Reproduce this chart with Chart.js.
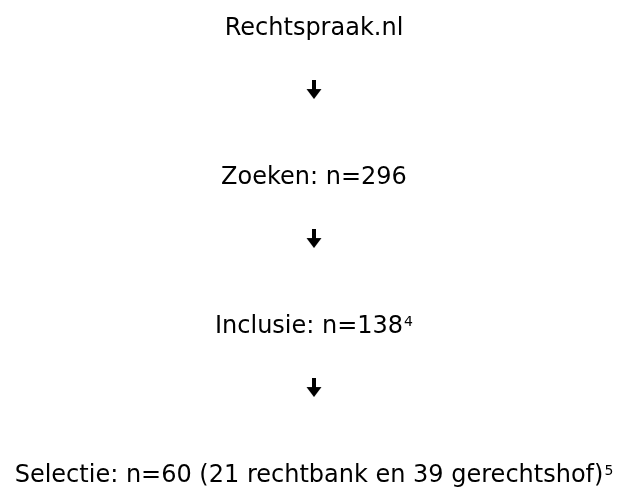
<!DOCTYPE html>
<html>
<head>
<meta charset="utf-8">
<script src="https://cdn.jsdelivr.net/npm/chart.js@4.4.1/dist/chart.umd.min.js"></script>
<style>
  html, body { margin: 0; padding: 0; background: #fff; }
</style>
</head>
<body>
<canvas id="flow" width="619" height="490"></canvas>
<script>
// Flow of the case-law search: one stage per row, arrows in between
const stageNames = ['Rechtspraak.nl', 'Zoeken', 'Inclusie', 'Selectie'];
const stageCounts = [null, 296, 138, 60];
const stageFootnotes = [null, null, 4, 5];
const courtTypes = ['rechtbank', 'gerechtshof'];
const courtCounts = [21, 39];

const ARROW_OFFSET = 0.433; // arrow sits a bit above the middle between two stages
const FONT = "'DejaVu Sans', Verdana, sans-serif";
const MAIN_SIZE = 24;
const NOTE_SIZE = 14;

function stageText(i) {
  if (stageCounts[i] == null) return stageNames[i];
  let s = stageNames[i] + ': n=' + stageCounts[i];
  if (i === stageNames.length - 1) {
    s += ' (' + courtCounts[0] + ' ' + courtTypes[0] + ' en ' + courtCounts[1] + ' ' + courtTypes[1] + ')';
  }
  return s;
}

// arrow glyph used as point style
const arrowImg = document.createElement('canvas');
arrowImg.width = 16;
arrowImg.height = 19;
(function () {
  const c = arrowImg.getContext('2d');
  c.fillStyle = '#000';
  c.fillRect(6, 0, 4, 10);
  c.beginPath();
  c.moveTo(0.5, 9);
  c.lineTo(15.5, 9);
  c.lineTo(8, 19);
  c.closePath();
  c.fill();
})();

const stagePoints = stageNames.map((_, i) => ({ x: 0, y: i }));
const arrowPoints = stageNames.slice(1).map((_, i) => ({ x: 0, y: i + ARROW_OFFSET }));

const stageLabels = {
  id: 'stageLabels',
  afterDatasetsDraw(chart) {
    const { ctx, scales: { x, y } } = chart;
    const cx = x.getPixelForValue(0);
    ctx.save();
    ctx.fillStyle = '#000';
    ctx.textBaseline = 'alphabetic';
    ctx.textAlign = 'left';
    stageNames.forEach((_, i) => {
      const main = stageText(i);
      const note = stageFootnotes[i] == null ? '' : String(stageFootnotes[i]);
      ctx.font = MAIN_SIZE + 'px ' + FONT;
      const wMain = ctx.measureText(main).width;
      ctx.font = NOTE_SIZE + 'px ' + FONT;
      const wNote = note ? ctx.measureText(note).width + 1 : 0;
      const left = cx - (wMain + wNote) / 2;
      const base = y.getPixelForValue(i) + 9.5;
      ctx.font = MAIN_SIZE + 'px ' + FONT;
      ctx.fillText(main, left, base);
      if (note) {
        ctx.font = NOTE_SIZE + 'px ' + FONT;
        ctx.fillText(note, left + wMain + 1, base - 7);
      }
    });
    ctx.restore();
  }
};

new Chart(document.getElementById('flow'), {
  type: 'scatter',
  data: {
    datasets: [
      {
        label: 'stages',
        data: stagePoints,
        pointRadius: 0,
        showLine: false,
      },
      {
        label: 'arrows',
        data: arrowPoints,
        pointStyle: arrowImg,
        pointRadius: 10,
        pointHoverRadius: 10,
        showLine: false,
      },
    ],
  },
  options: {
    responsive: false,
    animation: false,
    layout: { autoPadding: false, padding: { left: 9, right: 0, top: 0, bottom: 0 } },
    scales: {
      x: { type: 'linear', min: -1, max: 1, display: false },
      y: { type: 'linear', min: -25 / 149, max: 465 / 149, reverse: true, display: false },
    },
    plugins: {
      legend: { display: false },
      tooltip: { enabled: false },
    },
  },
  plugins: [stageLabels],
});
</script>
</body>
</html>
